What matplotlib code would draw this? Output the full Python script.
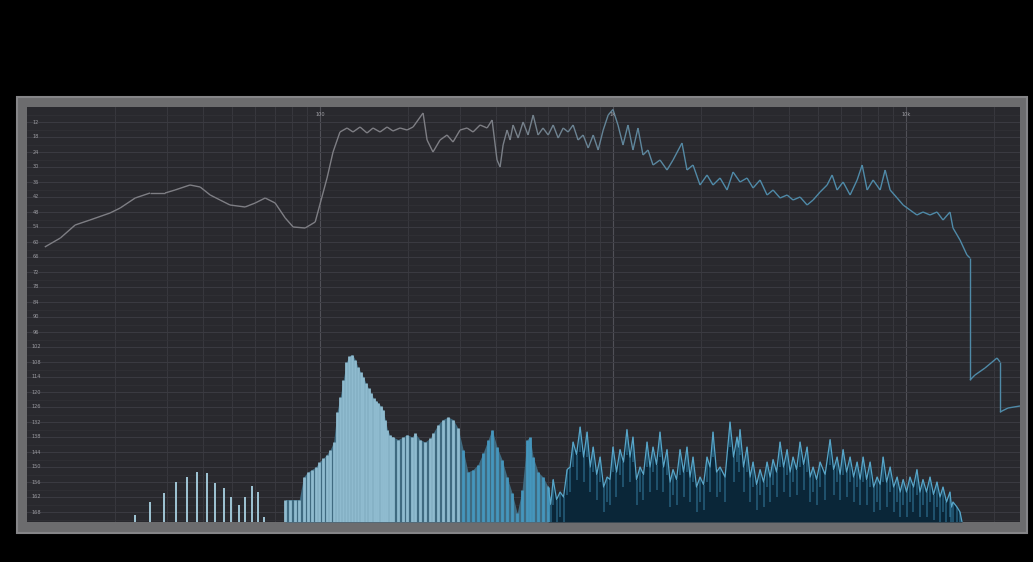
import numpy as np
import matplotlib
matplotlib.use("Agg")
import matplotlib.pyplot as plt
from matplotlib.collections import LineCollection
from matplotlib.colors import to_rgb
from matplotlib.patches import Rectangle

# measured response curve (Hz, dB below reference)
curve_hz = [11.5, 13.0, 14.6, 16.4, 19.2, 20.8, 23.4, 26.3, 29.6, 32.0,
            36.0, 39.0, 42.2, 45.6, 49.3, 55.5, 60.1, 65.0, 70.3, 76.1,
            81.0, 89.0, 96.3, 105.7, 110.8, 117.0, 123.7, 129.6, 137.0, 144.7,
            151.7, 160.3, 169.4, 177.5, 187.6, 198.2, 207.8, 224.8, 232, 243,
            256.9, 271.4, 284.5, 300.7, 317.7, 333, 351.9, 371.8, 386.7, 402,
            411.8, 421.6, 435, 445.5, 456, 474.5, 493.4, 513, 534, 555,
            577, 601, 625, 650, 676, 703, 731, 760, 791, 823,
            856, 890, 926, 963, 1000, 1040, 1082, 1125, 1170, 1217,
            1266, 1317, 1370, 1447, 1529, 1603, 1720, 1789, 1876, 1982,
            2094, 2195, 2320, 2451, 2569, 2714, 2868, 3007, 3177, 3357,
            3519, 3718, 3929, 4118, 4351, 4598, 4819, 5092, 5381, 5597,
            5820, 6101, 6446, 6812, 7086, 7370, 7725, 8162, 8489, 8830,
            9330, 9781, 10320, 10900, 11430, 12080, 12760, 13380, 14130, 14470,
            15290, 16150, 16540, 16540, 17200, 18610, 20450, 20940, 20940, 22300,
            24510]
curve_db = [62, 58.4, 53.2, 51.2, 48.4, 46.4, 42.4, 40.4, 40.4, 39.2,
            37.2, 38, 41.2, 43.2, 45.2, 46, 44.4, 42.4, 44.4, 50.4,
            54, 54.4, 52, 34.4, 24, 16, 14.4, 16, 14, 16.4,
            14.4, 16, 14, 15.6, 14.4, 15.2, 14, 8.4, 19.2, 24,
            19.2, 17.2, 20, 15.2, 14.4, 16, 13.2, 14.4, 11.2, 27.2,
            30, 21.2, 15.2, 19.2, 13.2, 18.4, 12, 17.2, 9.2, 17.2,
            14.4, 17.2, 13.2, 18.4, 14.4, 16, 13.2, 19.2, 17.2, 22.4,
            17.2, 23.2, 15.2, 9.2, 7, 13.2, 21.2, 13.2, 23.2, 14.4,
            25.2, 23.2, 29.2, 27.2, 31.2, 27.2, 20.4, 31.2, 29.2, 37.2,
            33.2, 37.2, 34.4, 39.2, 32, 36, 34.4, 38.4, 35.2, 41.2,
            39.2, 42.4, 41.2, 43.2, 42, 45.2, 43.2, 40, 37.2, 33.2,
            39.2, 36, 41.2, 35.2, 29.2, 39.2, 35.2, 39.2, 31.2, 39.2,
            42.4, 45.2, 47.2, 49.2, 48, 49.2, 48, 51.2, 48, 54.4,
            59.2, 65.2, 66.4, 115.2, 113.2, 110.4, 106.4, 108, 128, 126.4,
            125.6]

# low FFT bins, 48 kHz / 16384 points
bin_width = 48000 / 16384
bin_index = list(range(8, 61))
bin_db = [169, 164, 160.5, 156, 154, 152, 152.5, 156.5, 158.5, 162,
          165, 162, 157.5, 160, 170, 180, 180, 180, 163, 163,
          163, 163, 154, 152, 151, 150, 148, 146.5, 145, 143,
          140, 128, 122, 115, 108, 105.5, 105, 107, 110, 112,
          114, 116.5, 118.5, 120.5, 122.5, 123.5, 124.5, 125.5, 127, 131,
          135, 137, 138]

# mid band spectrum
mid_hz = [177.5, 184.7, 192, 198, 206, 211, 219.5, 228, 237.5, 243,
          253, 263, 273.6, 284.5, 296, 308, 320, 333, 346, 360,
          375, 386.7, 402, 418, 435, 453, 471, 489.5, 509, 521,
          534, 555, 577, 601]
mid_db = [138, 139, 138, 137, 138, 136.5, 139, 140, 138.5, 136.5,
          133, 131, 130, 131, 134.5, 143, 152, 151, 149, 144.5,
          139, 135, 142, 147, 154, 160.5, 168.5, 159, 139, 138,
          146, 152, 154, 158]

# high band spectrum, peaks and the troughs between them
high_hz = [601, 613, 625, 642, 660, 678, 697.5, 714, 731, 751,
           772.5, 794, 816, 836, 856, 880, 904, 929, 955, 977,
           1000, 1028, 1057, 1086, 1116, 1143, 1170, 1203, 1237, 1271,
           1307, 1338, 1370, 1408, 1447, 1487, 1529, 1566, 1603, 1648,
           1694, 1741, 1789, 1832, 1876, 1928, 1982, 2037, 2094, 2144,
           2195, 2257, 2320, 2413, 2509, 2579, 2651, 2683, 2714, 2790,
           2868, 2937, 3007, 3091, 3177, 3266, 3357, 3437, 3519, 3617,
           3718, 3822, 3929, 4022, 4118, 4233, 4351, 4473, 4598, 4707,
           4819, 4954, 5092, 5296, 5509, 5662, 5820, 5959, 6101, 6271,
           6446, 6626, 6812, 6975, 7141, 7340, 7545, 7755, 7972, 8162,
           8357, 8590, 8830, 9077, 9330, 9553, 9781, 10047, 10320, 10606,
           10900, 11162, 11430, 11751, 12080, 12415, 12760, 13066, 13380, 13750,
           14130, 14300, 14470, 14930, 15290, 15530]
high_db = [158, 165, 155, 163, 160, 162, 151, 150, 140, 145,
           134, 146, 136, 150, 142, 153, 146, 158, 154, 155,
           142, 152, 143, 148, 135, 146, 138, 155, 150, 153,
           140, 150, 142, 149, 136, 150, 143, 156, 151, 155,
           143, 152, 142, 154, 146, 158, 154, 157, 146, 150,
           136, 152, 150, 154, 132, 146, 138, 142, 135, 150,
           142, 154, 148, 157, 151, 156, 148, 154, 147, 152,
           140, 150, 143, 152, 146, 151, 140, 149, 142, 154,
           150, 155, 148, 153, 139, 151, 146, 153, 143, 152,
           146, 154, 148, 155, 146, 155, 148, 158, 154, 157,
           146, 156, 150, 158, 154, 160, 155, 160, 154, 158,
           151, 160, 155, 160, 154, 161, 156, 162, 158, 164,
           160, 166, 164, 166, 168, 172]

db_ticks = list(range(12, 169, 6))
freq_labels = [(100, "100"), (1000, "1k"), (10000, "10k")]

floor_db = 172
top_db = 6
W, H = 1033, 562

fig = plt.figure(figsize=(W / 100, H / 100), dpi=100, facecolor="black")

# grey bezel round the display
fig.patches.append(Rectangle((17 / W, 1 - 533 / H), 1010 / W, 436 / H,
                             transform=fig.transFigure, facecolor="#6c6c6e",
                             edgecolor="#858588", lw=1.5, zorder=-5))

ax = fig.add_axes([27 / W, 1 - 522 / H, 993 / W, 415 / H])
ax.set_zorder(2)
ax.set_facecolor("#29292e")
ax.set_xscale("log")
ax.set_xlim(10, 24500)
ax.set_ylim(floor_db, top_db)

# grid
ax.set_xticks([100, 1000, 10000])
ax.set_yticks(db_ticks)
ax.set_yticks(np.arange(9, 172, 3), minor=True)
ax.grid(which="major", axis="x", color="#505057", lw=0.8)
ax.grid(which="minor", axis="x", color="#3a3a41", lw=0.6)
ax.grid(which="major", axis="y", color="#3b3b42", lw=0.7)
ax.grid(which="minor", axis="y", color="#323238", lw=0.5)
ax.tick_params(which="both", length=0, labelleft=False, labelbottom=False)
for s in ax.spines.values():
    s.set_visible(False)
ax.set_axisbelow(True)

# low bins as separate lines
bin_hz = np.array(bin_index) * bin_width
bin_db = np.array(bin_db)
live = bin_db < floor_db
sparse = live & (np.array(bin_index) <= 22)
dense = live & (np.array(bin_index) >= 26)
ax.vlines(bin_hz[sparse], bin_db[sparse], floor_db, color="#a0c6d6", lw=1.4)

# continuous part from bin 26 up to the mid band
cont_hz = np.concatenate([bin_hz[dense], mid_hz])
cont_db = np.concatenate([bin_db[dense], mid_db])
ax.fill_between(cont_hz, cont_db, floor_db, color="#3f6a80", lw=0)
mid_cols = [to_rgb("#8fbbcf") if f < 300 else to_rgb("#4596bd") for f in cont_hz]
ax.vlines(cont_hz, cont_db, floor_db, colors=mid_cols, lw=2.0)

# high band: dark body with bright tips
ax.fill_between(high_hz, high_db, floor_db, color="#0a2638", lw=0)
ax.vlines(high_hz, high_db, np.minimum(np.array(high_db) + 10, floor_db),
          color="#3d8fb6", lw=1.2, alpha=0.5)
ax.plot(high_hz, high_db, color="#58a6c9", lw=0.9)

# response curve, grey at the bottom end turning steel blue higher up
pts = np.column_stack([curve_hz, curve_db])
segs = np.stack([pts[:-1], pts[1:]], axis=1)
grey = np.array(to_rgb("#7e7e84"))
blue = np.array(to_rgb("#4f8aa8"))
mix = np.clip((np.log10(np.array(curve_hz[:-1])) - np.log10(350)) / np.log10(6), 0, 1)
cols = grey[None, :] * (1 - mix[:, None]) + blue[None, :] * mix[:, None]
ax.add_collection(LineCollection(segs, colors=cols, lw=1.0))

# level and frequency labels inside the display
for d in db_ticks:
    ax.text(0.009, d, str(d), transform=ax.get_yaxis_transform(),
            fontsize=3.6, color="#9a9aa0", va="center", ha="center")
for f, lab in freq_labels:
    ax.text(f, 0.988, lab, transform=ax.get_xaxis_transform(),
            fontsize=3.6, color="#a0a0a6", va="top", ha="center")

fig.savefig("out.png", dpi=100, facecolor="black")
